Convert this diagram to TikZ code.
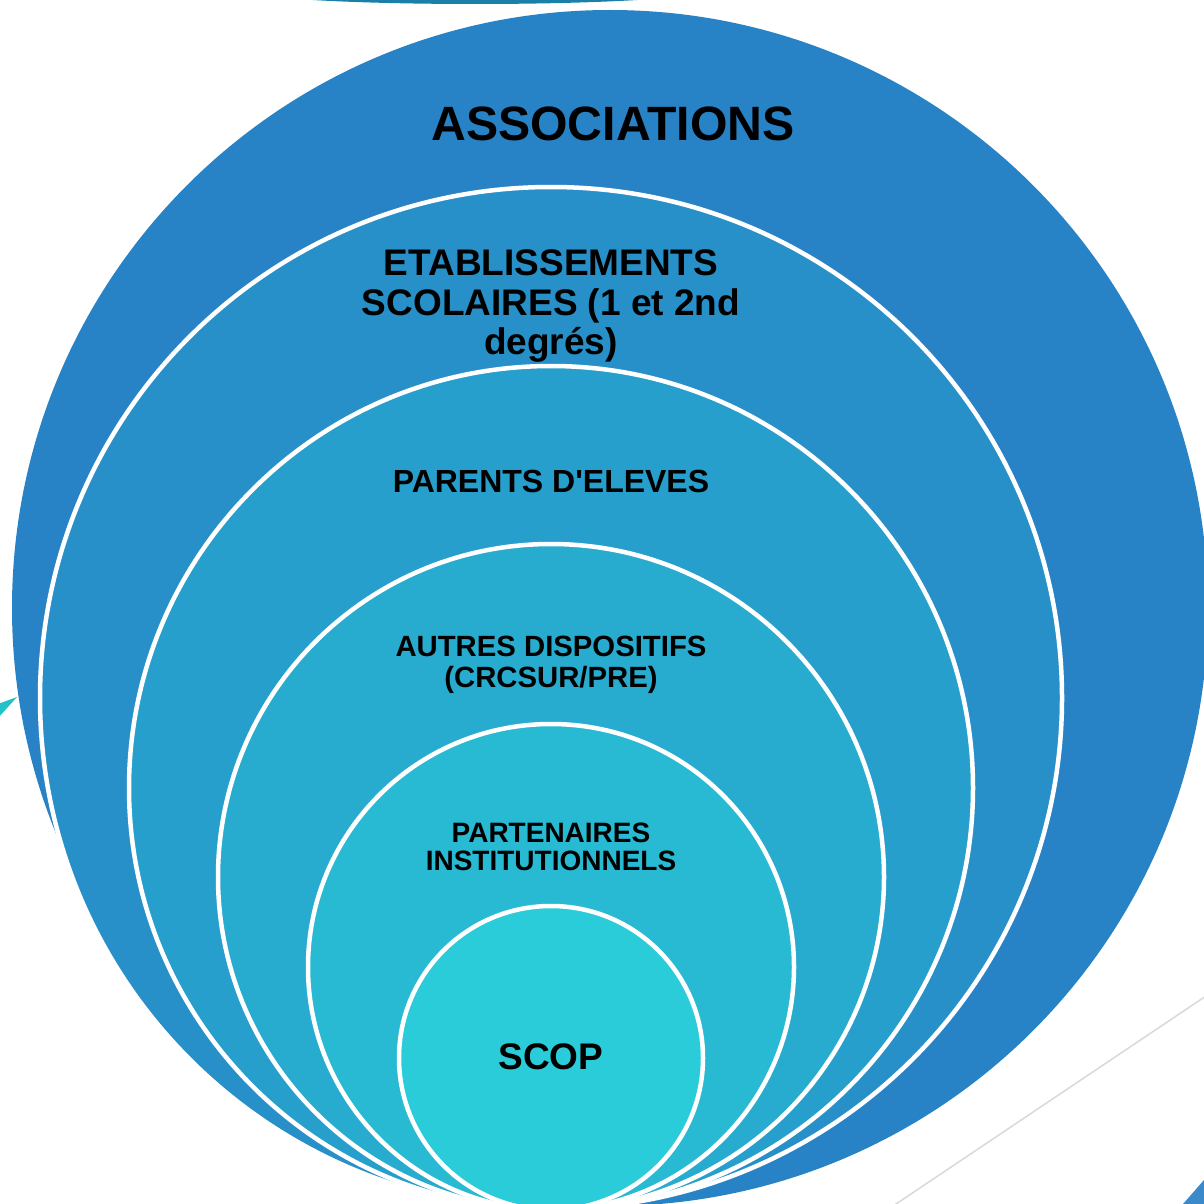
\documentclass[tikz,border=0pt]{standalone}
\usepackage{fontspec}
\setmainfont{Liberation Sans}
\usepackage{xcolor}
\usepackage{tikz}

\definecolor{ringA}{HTML}{2883C6}
\definecolor{ringB}{HTML}{2890C8}
\definecolor{ringC}{HTML}{279FCC}
\definecolor{ringD}{HTML}{27ACCF}
\definecolor{ringE}{HTML}{28BAD3}
\definecolor{ringF}{HTML}{29CCD8}
\definecolor{decoTeal}{HTML}{1A80A8}
\definecolor{decoSpike}{HTML}{22C2C8}
\definecolor{decoGray}{HTML}{D9D9D9}
\definecolor{decoBlue}{HTML}{3A8ACB}

\tikzset{
  ring/.style={draw=white, line width=4.5pt},
  lbl/.style={inner sep=0pt, align=center, font=\bfseries}
}

\begin{document}
\begin{tikzpicture}[x=1pt, y=-1pt]
                \clip (0,0) rectangle (1204,1204);
                \fill[white] (0,0) rectangle (1204,1204);

                %% background bits
                \fill[decoTeal] (475,-10) ellipse (232 and 14);
                \fill[decoSpike] (-2,704) -- (17,697) -- (-2,718) -- cycle;
                \draw[decoGray, line width=1.5pt] (893,1206) -- (1206,996);
                \fill[decoBlue] (1183,1204) -- (1204,1180) -- (1204,1204) -- cycle;

                %% circles
                \fill[ringA] (610,608) circle (598);
                \filldraw[ring, fill=ringB] (551,698) circle (511);
                \filldraw[ring, fill=ringC] (551,788) circle (422);
                \filldraw[ring, fill=ringD] (551,877) circle (333);
                \filldraw[ring, fill=ringE] (551,967) circle (243);
                \filldraw[ring, fill=ringF] (551,1058) circle (152);

                %% labels
                \node[lbl, font=\fontsize{48.2}{50}\selectfont\bfseries] (assoc) at (613,124) {ASSOCIATIONS};
                \node[lbl, font=\fontsize{37}{39.5}\selectfont\bfseries] (etab) at (551,306)
                    {ETABLISSEMENTS\\SCOLAIRES (1 et 2nd\\degrés)};
                \node[lbl, font=\fontsize{32}{34}\selectfont\bfseries] (parents) at (551,481)
                    {PARENTS D\textquotesingle ELEVES};
                \node[lbl, font=\fontsize{29.3}{31}\selectfont\bfseries] (autres) at (551,665)
                    {AUTRES DISPOSITIFS\\(CRCSUR/PRE)};
                \node[lbl, font=\fontsize{28}{28}\selectfont\bfseries] (parten) at (551,847)
                    {PARTENAIRES\\INSTITUTIONNELS};
                \node[lbl, font=\fontsize{37}{40}\selectfont\bfseries] (scop) at (551,1057) {SCOP};

            \end{tikzpicture}
\end{document}
